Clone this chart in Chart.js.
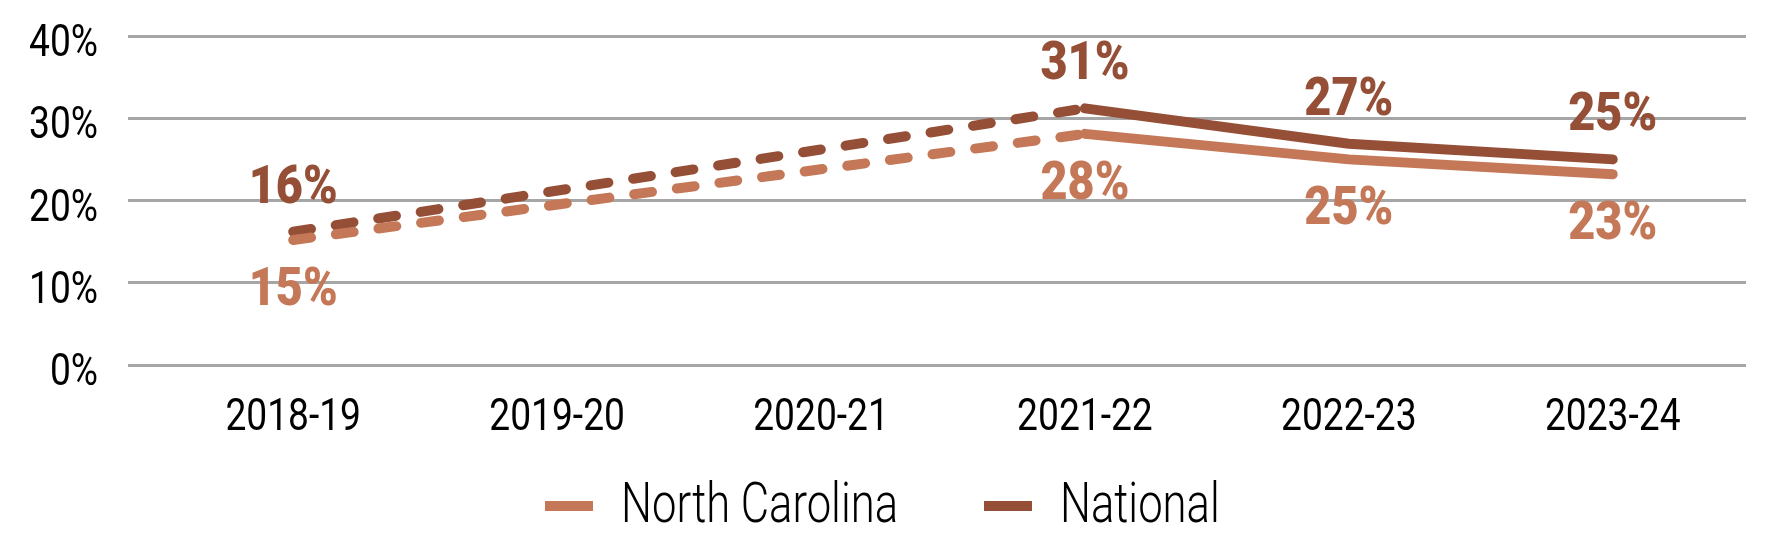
<!DOCTYPE html>
<html>
<head>
<meta charset="utf-8">
<script src="https://cdn.jsdelivr.net/npm/chart.js@4/dist/chart.umd.min.js"></script>
<style>
  html, body { margin: 0; padding: 0; background: #ffffff; }
  #wrap { width: 1778px; height: 556px; position: relative; }
</style>
</head>
<body>
<div id="wrap"><canvas id="c" width="1778" height="556"></canvas></div>
<script>
const categories = ['2018-19', '2019-20', '2020-21', '2021-22', '2022-23', '2023-24'];
const northCarolina = [15.2, null, null, 28.1, 25.0, 23.2];
const national = [16.2, null, null, 31.2, 26.9, 25.0];
const seriesNames = ['North Carolina', 'National'];
const yTicks = [0, 10, 20, 30, 40];

const NC_COLOR = '#C47857';
const NAT_COLOR = '#954F36';
const FONT = 'Roboto, "DejaVu Sans", sans-serif';

function toPoints(arr) { return arr.map((v, i) => ({ x: i, y: v })); }

// draw text narrowed horizontally (condensed look)
function drawNarrow(ctx, text, x, y, font, color, align, sx) {
  ctx.save();
  ctx.font = font;
  ctx.fillStyle = color;
  ctx.textBaseline = 'alphabetic';
  ctx.textAlign = 'left';
  const w = ctx.measureText(text).width * sx;
  let left = x;
  if (align === 'center') left = x - w / 2;
  else if (align === 'right') left = x - w;
  ctx.translate(left, y);
  ctx.scale(sx, 1);
  ctx.fillText(text, 0, 0);
  ctx.restore();
  return w;
}

function fitScale(ctx, font, sample, target) {
  ctx.save();
  ctx.font = font;
  const w = ctx.measureText(sample).width;
  ctx.restore();
  return target / w;
}

const axisLabelPlugin = {
  id: 'axisLabels',
  afterDraw(chart) {
    const ctx = chart.ctx;
    const font = '45px ' + FONT;
    const sx = fitScale(ctx, font, '40%', 69);
    const ys = chart.scales.y, xs = chart.scales.x;
    yTicks.forEach(v => {
      drawNarrow(ctx, v + '%', ys.right - 30, ys.getPixelForValue(v) + 20, font, '#000000', 'right', sx);
    });
    categories.forEach((c, i) => {
      drawNarrow(ctx, c, xs.getPixelForValue(i), xs.top + 65, font, '#000000', 'center', sx);
    });
  }
};

const valueLabelPlugin = {
  id: 'valueLabels',
  afterDatasetsDraw(chart) {
    const ctx = chart.ctx;
    const font = '900 54px ' + FONT;
    const sx = fitScale(ctx, font, '16%', 89);
    chart.data.datasets.forEach((ds, di) => {
      const meta = chart.getDatasetMeta(di);
      const above = di === 1;
      meta.data.forEach((pt, i) => {
        const v = ds.data[i].y;
        if (v === null || v === undefined) return;
        const y = above ? pt.y - 29 : pt.y + 65;
        drawNarrow(ctx, Math.round(v) + '%', pt.x, y, font, ds.borderColor, 'center', sx);
      });
    });
  }
};

const legendPlugin = {
  id: 'customLegend',
  afterDraw(chart) {
    const ctx = chart.ctx;
    const font = '300 56px ' + FONT;
    const sx = fitScale(ctx, font, seriesNames[0], 277);
    const colors = [NC_COLOR, NAT_COLOR];
    let x = 545;
    seriesNames.forEach((name, i) => {
      ctx.save();
      ctx.fillStyle = colors[i];
      ctx.fillRect(x, 501, 48, 10);
      ctx.restore();
      const tw = drawNarrow(ctx, name, x + 76, 522, font, '#000000', 'left', sx);
      x = x + 76 + tw + 86;
    });
  }
};

const dashSeg = { borderDash: ctx => ctx.p1DataIndex <= 3 ? [18, 25] : undefined };

function makeDataset(name, values, color) {
  return {
    label: name,
    data: toPoints(values),
    borderColor: color,
    backgroundColor: color,
    borderWidth: 10,
    borderCapStyle: 'round',
    borderJoinStyle: 'round',
    pointRadius: 0,
    pointHoverRadius: 0,
    spanGaps: true,
    tension: 0,
    segment: dashSeg
  };
}

new Chart(document.getElementById('c'), {
  type: 'line',
  data: {
    datasets: [
      makeDataset(seriesNames[0], northCarolina, NC_COLOR),
      makeDataset(seriesNames[1], national, NAT_COLOR)
    ]
  },
  options: {
    responsive: false,
    animation: false,
    devicePixelRatio: 1,
    layout: { padding: { top: 36, right: 32, left: 0, bottom: 116 } },
    plugins: { legend: { display: false }, tooltip: { enabled: false } },
    scales: {
      x: {
        type: 'linear',
        min: -0.626,
        max: 5.505,
        grid: { display: false, drawTicks: false },
        border: { display: false },
        afterBuildTicks: axis => { axis.ticks = categories.map((c, i) => ({ value: i })); },
        afterFit: axis => { axis.height = 75; },
        ticks: { display: false }
      },
      y: {
        min: 0,
        max: 40,
        afterBuildTicks: axis => { axis.ticks = yTicks.map(v => ({ value: v })); },
        afterFit: axis => { axis.width = 128; },
        grid: { color: '#A6A6A6', lineWidth: 3, drawTicks: false },
        border: { display: false },
        ticks: { display: false }
      }
    }
  },
  plugins: [axisLabelPlugin, valueLabelPlugin, legendPlugin]
});
</script>
</body>
</html>
